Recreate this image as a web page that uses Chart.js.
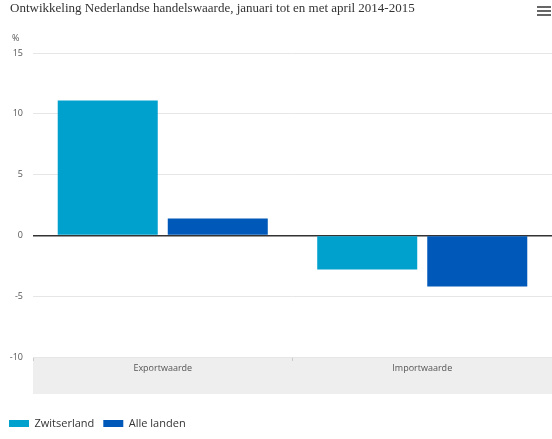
<!DOCTYPE html>
<html>
<head>
<meta charset="utf-8">
<script src="https://cdn.jsdelivr.net/npm/chart.js@4/dist/chart.umd.min.js"></script>
<style>
  html, body { margin: 0; padding: 0; background: #fff; }
  #wrap { width: 552px; height: 439px; position: relative; }
</style>
</head>
<body>
<div id="wrap"><canvas id="chart"></canvas></div>
<script>
// --- data ---
const categories = ['Exportwaarde', 'Importwaarde'];
const seriesNames = ['Zwitserland', 'Alle landen'];
const zwitserland = [11.1, -2.8];
const alleLanden = [1.4, -4.2];
const seriesColors = ['#00a1cd', '#0058b8'];

const yMin = -10, yMax = 15, yStep = 5;

const chartTitle = 'Ontwikkeling Nederlandse handelswaarde, januari tot en met april 2014-2015';
const unitLabel = '%';

const BAND_HEIGHT = 37;

// titel, eenheid, grijze band onder de x-as + menu-icoon
const extras = {
    id: 'extras',
    beforeDraw(chart) {
        const ctx = chart.ctx;
        const x = chart.scales.x;
        ctx.save();
        ctx.fillStyle = '#eeeeee';
        ctx.fillRect(x.left, x.top, x.right - x.left, BAND_HEIGHT);

        ctx.textBaseline = 'middle';
        ctx.textAlign = 'left';
        ctx.fillStyle = '#333';
        ctx.font = '13px "Liberation Serif"';
        ctx.fillText(chartTitle, 10, 9);
        ctx.fillStyle = '#555';
        ctx.font = '9px "Open Sans"';
        ctx.fillText(unitLabel, 12, 38);
        ctx.restore();
    },
    afterDraw(chart) {
        const ctx = chart.ctx;
        ctx.save();
        ctx.fillStyle = '#666';
        [6, 10, 14].forEach(y => ctx.fillRect(537, y, 14, 2));
        ctx.restore();
    }
};

new Chart(document.getElementById('chart'), {
    type: 'bar',
    data: {
        labels: categories,
        datasets: [
            { label: seriesNames[0], data: zwitserland, backgroundColor: seriesColors[0] },
            { label: seriesNames[1], data: alleLanden, backgroundColor: seriesColors[1] }
        ]
    },
    options: {
        responsive: true,
        maintainAspectRatio: false,
        animation: false,
        layout: { padding: { left: 0, right: 0, top: 53, bottom: 0 } },
        datasets: { bar: { categoryPercentage: 0.848, barPercentage: 0.909 } },
        plugins: {
            title: { display: false },
            legend: {
                position: 'bottom',
                align: 'start',
                labels: {
                    boxWidth: 20,
                    boxHeight: 7,
                    color: '#333',
                    padding: 9,
                    font: { family: 'Open Sans', size: 11 }
                }
            },
            tooltip: { enabled: false }
        },
        scales: {
            x: {
                grid: {
                    offset: true,
                    drawOnChartArea: false,
                    drawTicks: true,
                    tickLength: 4,
                    color: '#cccccc'
                },
                border: { display: false },
                ticks: {
                    color: '#555',
                    padding: 2,
                    font: { family: 'Open Sans', size: 9 }
                },
                afterFit(scale) { scale.height = 52; }
            },
            y: {
                min: yMin,
                max: yMax,
                ticks: {
                    stepSize: yStep,
                    color: '#555',
                    padding: 10,
                    font: { family: 'Open Sans', size: 9 }
                },
                grid: {
                    drawTicks: false,
                    color: c => c.tick && c.tick.value === 0 ? '#333' : '#e6e6e6',
                    lineWidth: c => c.tick && c.tick.value === 0 ? 1.5 : 1
                },
                border: { display: false },
                afterFit(scale) { scale.width = 33; }
            }
        }
    },
    plugins: [extras]
});
</script>
</body>
</html>
